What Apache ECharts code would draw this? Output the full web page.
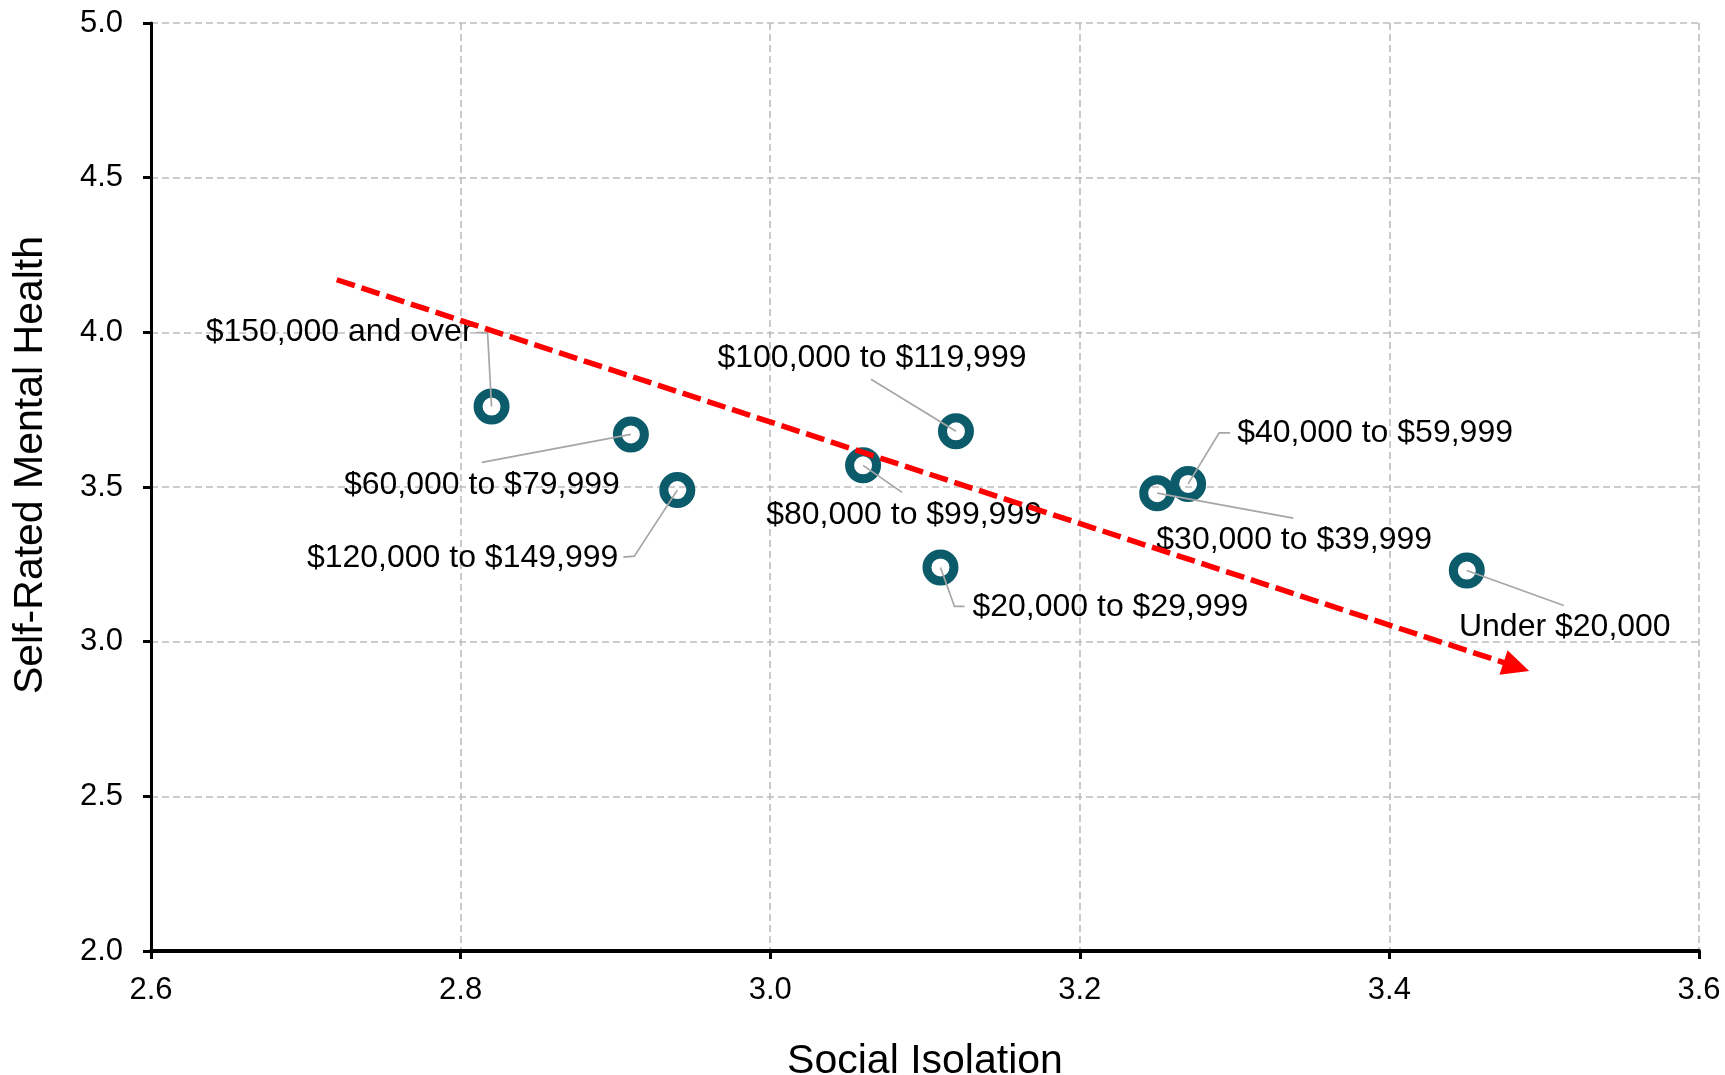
<!DOCTYPE html>
<html>
<head>
<meta charset="utf-8">
<script src="https://cdn.jsdelivr.net/npm/echarts@6/dist/echarts.min.js"></script>
<style>
html,body{margin:0;padding:0;background:#ffffff;}
#chart{width:1725px;height:1075px;}
</style>
</head>
<body>
<div id="chart"></div>
<script>
// ---------- data ----------
const incomeGroups = [
  '$150,000 and over',
  '$60,000 to $79,999',
  '$120,000 to $149,999',
  '$100,000 to $119,999',
  '$80,000 to $99,999',
  '$20,000 to $29,999',
  '$30,000 to $39,999',
  '$40,000 to $59,999',
  'Under $20,000'
];
const socialIsolation       = [2.82, 2.91, 2.94, 3.12, 3.06, 3.11, 3.25, 3.27, 3.45];
const selfRatedMentalHealth = [3.76, 3.67, 3.49, 3.68, 3.57, 3.24, 3.48, 3.51, 3.23];
// trend arrow: start of the dashed line and centre of the arrow head
const trendStart = [2.72, 4.17];
const trendEnd   = [3.482, 2.919];
const xTicks = [2.6, 2.8, 3.0, 3.2, 3.4, 3.6];
const yTicks = [2.0, 2.5, 3.0, 3.5, 4.0, 4.5, 5.0];

// ---------- label placement (pixel offsets from each marker centre) ----------
const labelPlacement = [
  {dx: -19, dy: -74, align: 'right',  line: [[-4, -74], [-15, -74]]},
  {dx: -149, dy: 51, align: 'center', line: [[-149, 28]]},
  {dx: -59, dy: 68,  align: 'right',  line: [[-43, 66], [-54, 67]]},
  {dx: -84, dy: -73, align: 'center', line: [[-85, -52]]},
  {dx: 41,  dy: 50,  align: 'center', line: [[39, 27]]},
  {dx: 32,  dy: 40,  align: 'left',   line: [[14, 39], [24, 39]]},
  {dx: 137, dy: 47,  align: 'center', line: [[136, 25]]},
  {dx: 49,  dy: -51, align: 'left',   line: [[31, -51], [42, -51]]},
  {dx: 98,  dy: 57,  align: 'center', line: [[97, 35]]}
];

const FONT = '"Liberation Sans", Arial, Helvetica, sans-serif';
const points = socialIsolation.map((x, i) => [x, selfRatedMentalHealth[i]]);

function renderLabel(params, api) {
  const i = params.dataIndex;
  const p = api.coord([api.value(0), api.value(1)]);
  const L = labelPlacement[i];
  const pts = [[p[0], p[1]]].concat(L.line.map(o => [p[0] + o[0], p[1] + o[1]]));
  return {
    type: 'group',
    children: [
      {
        type: 'polyline',
        shape: {points: pts},
        style: {stroke: '#A6A6A6', lineWidth: 1.7, fill: 'none'}
      },
      {
        type: 'text',
        x: p[0] + L.dx,
        y: p[1] + L.dy,
        style: {
          text: incomeGroups[i],
          fill: '#000000',
          font: '32px ' + FONT,
          align: L.align,
          verticalAlign: 'middle'
        }
      }
    ]
  };
}

const chart = echarts.init(document.getElementById('chart'), null, {renderer: 'canvas'});
const splitStyle = {color: '#BDBDBD', width: 1.6, type: [7, 4]};

chart.setOption({
  animation: false,
  backgroundColor: '#ffffff',
  grid: {left: 151, right: 26, top: 23, bottom: 124, containLabel: false, outerBoundsMode: 'none'},
  xAxis: {
    type: 'value',
    min: xTicks[0], max: xTicks[xTicks.length - 1], interval: 0.2,
    name: 'Social Isolation', nameLocation: 'middle', nameGap: 90,
    nameTextStyle: {fontSize: 41, color: '#000', fontFamily: FONT},
    axisLine: {show: true, onZero: false, lineStyle: {color: '#000', width: 4}},
    axisTick: {show: true, inside: false, length: 8, lineStyle: {color: '#000', width: 3}},
    axisLabel: {fontSize: 31, color: '#000', fontFamily: FONT, margin: 24,
                formatter: v => Number(v).toFixed(1)},
    splitLine: {show: true, lineStyle: splitStyle}
  },
  yAxis: {
    type: 'value',
    min: yTicks[0], max: yTicks[yTicks.length - 1], interval: 0.5,
    name: 'Self-Rated Mental Health', nameLocation: 'middle', nameGap: 100,
    nameTextStyle: {fontSize: 41, color: '#000', fontFamily: FONT, padding: [0, 0, 0, 44]},
    axisLine: {show: true, onZero: false, lineStyle: {color: '#000', width: 3}},
    axisTick: {show: true, inside: false, length: 8, lineStyle: {color: '#000', width: 3}},
    axisLabel: {fontSize: 31, color: '#000', fontFamily: FONT, margin: 28,
                formatter: v => Number(v).toFixed(1)},
    splitLine: {show: true, lineStyle: splitStyle}
  },
  series: [
    {
      type: 'scatter',
      z: 2,
      data: points,
      symbol: 'circle',
      symbolSize: 27,
      itemStyle: {color: 'rgba(255,255,255,0)', borderColor: '#0B5B6B', borderWidth: 9, opacity: 1},
      emphasis: {disabled: true},
      markLine: {
        silent: true,
        z: 10,
        animation: false,
        symbol: ['none', 'triangle'],
        symbolSize: [26, 27],
        label: {show: false},
        lineStyle: {color: '#FF0000', width: 5.5, type: [19, 7], opacity: 1},
        emphasis: {disabled: true},
        data: [[{coord: trendStart}, {coord: trendEnd}]]
      }
    },
    {
      type: 'custom',
      z: 4,
      data: points,
      renderItem: renderLabel,
      clip: false,
      silent: true
    }
  ]
});
</script>
</body>
</html>
